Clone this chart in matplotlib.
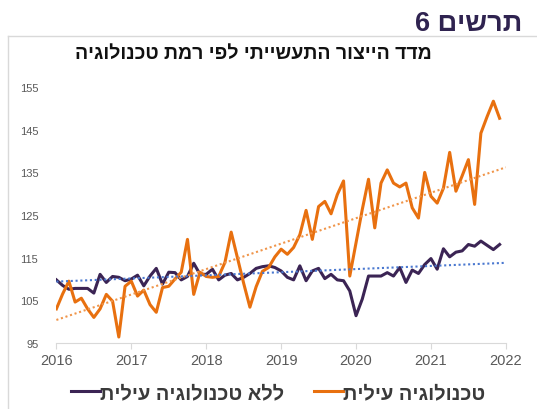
import matplotlib
matplotlib.use("Agg")
import matplotlib.pyplot as plt
import numpy as np

plt.rcParams['font.family'] = ['Liberation Sans', 'DejaVu Sans']

# --- data (monthly, Jan 2016 - Dec 2021) ---
high_tech = [103, 106.5, 109.5, 104.6, 105.5, 103, 101, 103, 106.4, 104.8, 96.4, 108.3,
             109.5, 106, 107.4, 104, 102.2, 108, 108.3, 110, 111.6, 119.3, 106.4, 111.6,
             110.6, 110.4, 110.6, 113.9, 121, 115, 109, 103.4, 108.2, 111.8, 112.7, 115.2,
             117, 115.8, 117.4, 120.4, 126.1, 119.3, 127, 128.2, 125.3, 129.8, 133, 110.7,
             118.5, 126.3, 133.4, 122, 132.5, 135.6, 132.5, 131.6, 132.5, 126.7, 124.3, 135,
             129.4, 127.8, 131.3, 139.7, 130.6, 134.2, 138, 127.5, 144.2, 148.1, 151.7, 147.7]
no_high_tech = [109.8, 108.5, 107.6, 107.8, 107.8, 107.8, 106.7, 111.1, 109.2, 110.6, 110.4, 109.6,
                110, 110.9, 108.4, 110.7, 112.5, 108.8, 111.6, 111.5, 109.8, 110.6, 113.7, 111.1,
                111.1, 112.3, 109.8, 110.9, 111.3, 109.8, 110.4, 111.3, 112.5, 112.9, 113.1, 112.7,
                111.9, 110.4, 109.8, 113.1, 109.6, 111.9, 112.5, 110.1, 111.1, 109.8, 109.6, 107.2,
                101.4, 105.3, 110.7, 110.7, 110.7, 111.5, 110.7, 112.7, 109.2, 112.1, 111.3, 113.4,
                114.8, 112.3, 117.1, 115.2, 116.3, 116.6, 118.1, 117.7, 118.9, 117.9, 116.9, 118.1]
# trend lines as shown in the chart (value at start 2016, at 2022)
trend_years = [2016, 2022]
trend_high = [100.4, 136.2]
trend_no = [109.4, 113.8]

years = [2016, 2017, 2018, 2019, 2020, 2021, 2022]
y_ticks = [95, 105, 115, 125, 135, 145, 155]

title = "תרשים 6"
subtitle = "מדד הייצור התעשייתי לפי רמת טכנולוגיה"
lbl_high = "טכנולוגיה עילית"
lbl_no = "ללא טכנולוגיה עילית"

def rtl(s):
    # matplotlib has no bidi support, so flip Hebrew for display
    return s[::-1]

ORANGE = '#E8700F'
PURPLE = '#3B2454'

t = 2016 + np.arange(len(high_tech)) / 12.0

fig = plt.figure(figsize=(5.37, 4.10), dpi=100)
ax = fig.add_axes([0.105, 0.161, 0.837, 0.624])

ax.plot(t, no_high_tech, color=PURPLE, lw=2.2, label=rtl(lbl_no), solid_joinstyle='round')
ax.plot(t, high_tech, color=ORANGE, lw=2.2, label=rtl(lbl_high), solid_joinstyle='round')

# dotted trend lines
ax.plot(trend_years, trend_high, color='#F0954A', lw=1.5, ls=(0, (1, 1.3)))
ax.plot(trend_years, trend_no, color='#4A78D0', lw=1.5, ls=(0, (1, 1.3)))

ax.set_xlim(2016, 2022)
ax.set_ylim(95, 155)
ax.set_xticks(years)
ax.set_xticklabels([str(y) for y in years], fontsize=10.5, color='#595959')
ax.set_yticks(y_ticks)
ax.set_yticklabels([str(v) for v in y_ticks], fontsize=8, color='#595959')
ax.tick_params(axis='y', length=0, pad=13)
ax.tick_params(axis='x', length=4, color='#D9D9D9', pad=3)
for s in ['top', 'right', 'left']:
    ax.spines[s].set_visible(False)
ax.spines['bottom'].set_color('#D9D9D9')

# frame around the chart
fig.add_artist(plt.Line2D([8 / 537, 1], [1 - 37 / 410] * 2, color='#D9D9D9', lw=1,
                          transform=fig.transFigure))
fig.add_artist(plt.Line2D([8 / 537] * 2, [0, 1 - 37 / 410], color='#D9D9D9', lw=1,
                          transform=fig.transFigure))

fig.text(0.972, 0.942, rtl(title), ha='right', va='center', fontsize=19.5,
         fontweight='bold', color='#2F2350')
fig.text(0.471, 0.868, rtl(subtitle), ha='center', va='center', fontsize=14,
         fontweight='bold', color='#111111')

leg = fig.legend(loc='center', bbox_to_anchor=(0.518, 0.04), ncol=2, frameon=False,
                 fontsize=14.4, handlelength=1.45, handletextpad=0.0, columnspacing=1.45)
for txt in leg.get_texts():
    txt.set_fontweight('bold')
    txt.set_color('#3A3A3A')

fig.savefig('out.png', dpi=100)
